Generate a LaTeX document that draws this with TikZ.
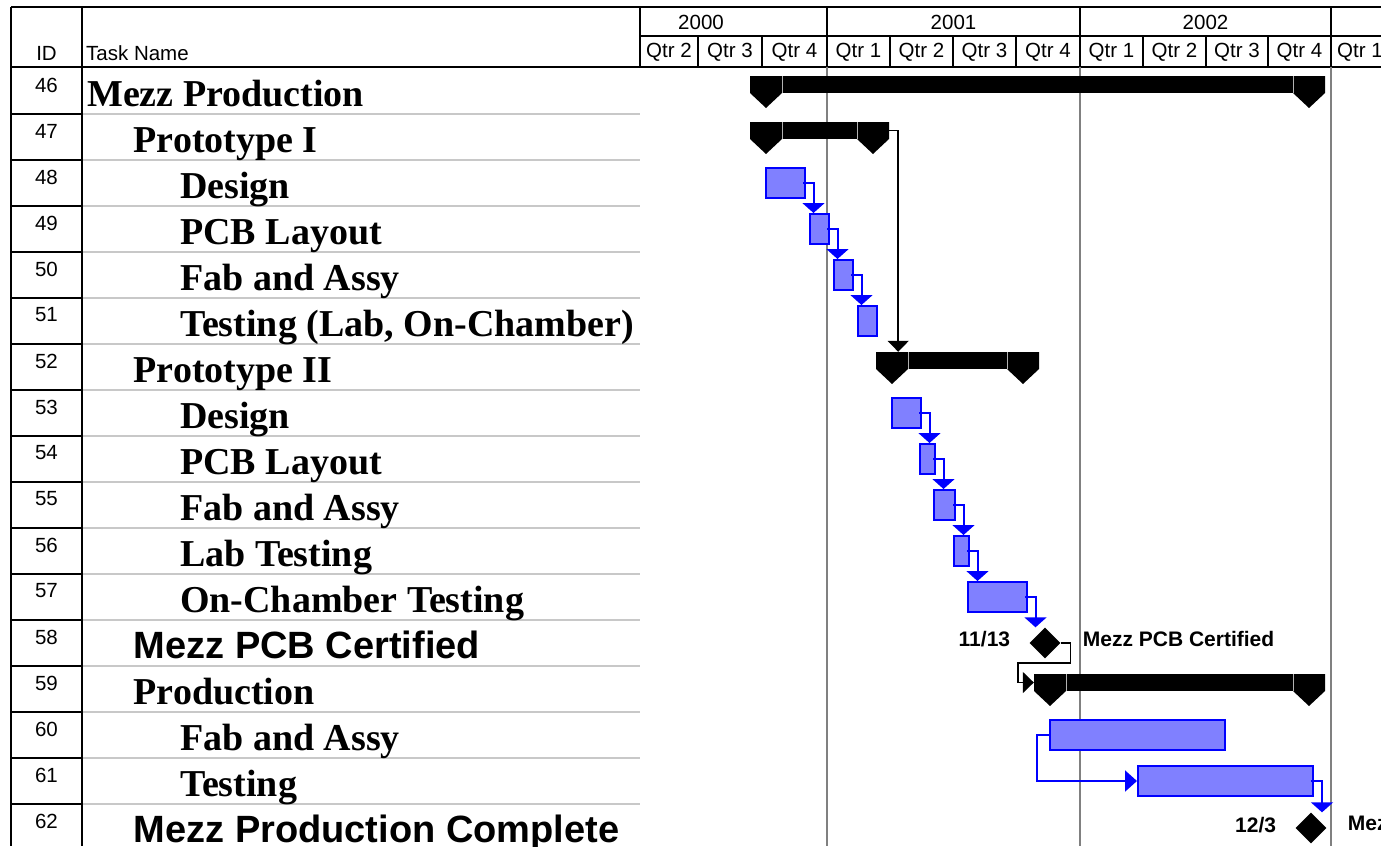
\documentclass[tikz,border=0pt]{standalone}
\usepackage{fontspec}
\setmainfont{Liberation Serif}
\setsansfont{Liberation Sans}
\usetikzlibrary{arrows.meta,fit,shapes.geometric,positioning}

\definecolor{taskfill}{RGB}{128,128,255}
\definecolor{taskline}{RGB}{0,0,255}
\definecolor{rowgrey}{RGB}{200,200,200}
\definecolor{gridgrey}{RGB}{128,128,128}

\newcommand{\taskrm}{\fontsize{38pt}{40pt}\selectfont\rmfamily\bfseries}
\newcommand{\tasksf}{\fontsize{38pt}{40pt}\selectfont\sffamily\bfseries}
\newcommand{\headsf}{\fontsize{20.5pt}{22pt}\selectfont\sffamily}
\newcommand{\datesf}{\fontsize{21pt}{23pt}\selectfont\sffamily\bfseries}

\tikzset{
  frame/.style={line width=1.5pt, black},
  idline/.style={line width=2pt, black},
  rowline/.style={line width=2.5pt, rowgrey},
  yearline/.style={line width=2pt, gridgrey},
  taskbar/.style={draw=taskline, fill=taskfill, line width=2pt, inner sep=0pt},
  milestone/.style={diamond, fill=black, minimum width=31pt, minimum height=31pt, inner sep=0pt},
  tasklink/.style={taskline, line width=2pt, -{Triangle[width=22pt,length=10pt]}},
  sumlink/.style={black, line width=1.5pt, -{Triangle[width=21pt,length=11pt]}},
}

% summary bar: name, start, end, row top
\newcommand{\summarybar}[4]{%
  \fill (#2,#4+8) rectangle (#3,#4+25);
  \fill (#2,#4+8) -- ++(32,0) -- ++(0,17) -- ++(-16,15) -- ++(-16,-15) -- cycle;
  \fill (#3,#4+8) -- ++(-32,0) -- ++(0,17) -- ++(16,15) -- ++(16,-15) -- cycle;
  \draw[gray!60, line width=0.6pt] (#2+32,#4+8) -- ++(0,17) (#3-32,#4+8) -- ++(0,17);
  \node[fit={(#2,#4+8) (#3,#4+25)}, inner sep=0pt] (#1) {};
}

\begin{document}
\begin{tikzpicture}[x=1pt, y=-1pt]
  \useasboundingbox (0,0) rectangle (1381,846);
  \clip (0,0) rectangle (1381,846);

  % Row separators
  \foreach \k in {1,...,16} {
    \draw[rowline] (82,68+46*\k) -- (640,68+46*\k);
    \draw[idline] (11,68+46*\k) -- (82,68+46*\k);
  }
  \draw[idline] (11,7) -- (11,846);
  \draw[idline] (82,7) -- (82,846);

  % Timescale
  \draw[frame] (11,7) -- (1381,7);
  \draw[frame] (11,67) -- (1381,67);
  \draw[frame] (640,36) -- (1381,36);
  \draw[frame] (640,7) -- (640,67);
  \foreach \x in {827,1080,1331} {
    \draw[frame] (\x,7) -- (\x,67);
    \draw[yearline] (\x,67) -- (\x,846);
  }
  \foreach \x in {698,762,890,953,1016,1143,1206,1268}
    \draw[frame] (\x,36) -- (\x,67);
  \foreach \x/\yr in {701/2000, 953.5/2001, 1205.5/2002}
    \node[font=\headsf] (y\yr) at (\x,22) {\yr};
  \foreach \x/\q [count=\i] in {669/2, 730/3, 794.5/4, 858.5/1, 921.5/2, 984.5/3,
      1048/4, 1111.5/1, 1174.5/2, 1237/3, 1299.5/4, 1360/1}
    \node[font=\headsf] (q\i) at (\x,52) {Qtr \q};

  % Table head and task names
  \node[font=\headsf] (idhead) at (46.5,53) {ID};
  \node[font=\headsf, anchor=west, inner sep=0pt] (namehead) at (86,53) {Task Name};
  \foreach \id/\lvl/\fnt/\name in {46/0/\taskrm/Mezz Production, 47/1/\taskrm/Prototype I,
      48/2/\taskrm/Design, 49/2/\taskrm/PCB Layout, 50/2/\taskrm/Fab and Assy,
      51/2/\taskrm/{Testing (Lab, On-Chamber)}, 52/1/\taskrm/Prototype II,
      53/2/\taskrm/Design, 54/2/\taskrm/PCB Layout, 55/2/\taskrm/Fab and Assy,
      56/2/\taskrm/Lab Testing, 57/2/\taskrm/On-Chamber Testing,
      58/1/\tasksf/Mezz PCB Certified, 59/1/\taskrm/Production,
      60/2/\taskrm/Fab and Assy, 61/2/\taskrm/Testing, 62/1/\tasksf/Mezz Production Complete} {
    \node[font=\headsf] (id\id) at (46.5,{68+46*(\id-46)+17}) {\id};
    \node[font=\fnt, anchor=base west, inner sep=0pt] (task\id) at ({87+46.5*\lvl},{68+46*(\id-46)+38.5}) {\name};
  }

  % Summary bars
  \summarybar{s46}{750}{1325}{68}
  \summarybar{s47}{750}{889}{114}
  \summarybar{s52}{876}{1039}{344}
  \summarybar{s59}{1034}{1325}{666}

  % Task bars
  \node[taskbar, fit={(766,168) (805,198)}] (t48) {};
  \node[taskbar, fit={(810,214) (829,244)}] (t49) {};
  \node[taskbar, fit={(834,260) (853,290)}] (t50) {};
  \node[taskbar, fit={(858,306) (877,336)}] (t51) {};
  \node[taskbar, fit={(892,398) (921,428)}] (t53) {};
  \node[taskbar, fit={(920,444) (935,474)}] (t54) {};
  \node[taskbar, fit={(934,490) (955,520)}] (t55) {};
  \node[taskbar, fit={(954,536) (969,566)}] (t56) {};
  \node[taskbar, fit={(968,582) (1027,612)}] (t57) {};
  \node[taskbar, fit={(1050,720) (1225,750)}] (t60) {};
  \node[taskbar, fit={(1138,766) (1313,796)}] (t61) {};

  % Milestones
  \node[milestone] (m58) at (1045,643) {};
  \node[font=\datesf, inner sep=0pt, left=19pt of m58, yshift=4pt] (d58) {11/13};
  \node[font=\datesf, inner sep=0pt, right=22pt of m58, yshift=4pt] (n58) {Mezz PCB Certified};
  \node[milestone] (m62) at (1311,828) {};
  \node[font=\datesf, inner sep=0pt, left=19pt of m62, yshift=3pt] (d62) {12/3};
  \node[font=\datesf, inner sep=0pt, right=21pt of m62, yshift=3pt] (n62) {Mezz Production Complete};

  % Links
  \draw[sumlink] (s47.east) -| ([xshift=9pt]s47.east |- s52.north);
  \foreach \a/\b in {t48/t49, t49/t50, t50/t51, t53/t54, t54/t55, t55/t56, t56/t57}
    \draw[tasklink] ([xshift=-3pt]\a.east) -| ([xshift=7.5pt]\a.east |- \b.north);
  \draw[tasklink] ([xshift=-3pt]t57.east) -| ([xshift=7.5pt]t57.east |- m58.north);
  \draw[sumlink] (m58.east) -- ++(10,0) -- ++(0,20) -| ([xshift=-16pt]s59.west) -- (s59.west);
  \draw[tasklink, -{Triangle[width=21pt,length=12pt]}] (t60.west) -- ++(-12,0) |- (t61.west);
  \draw[tasklink] ([xshift=-3pt]t61.east) -| ([xshift=8pt]t61.east |- m62.north);
\end{tikzpicture}
\end{document}
